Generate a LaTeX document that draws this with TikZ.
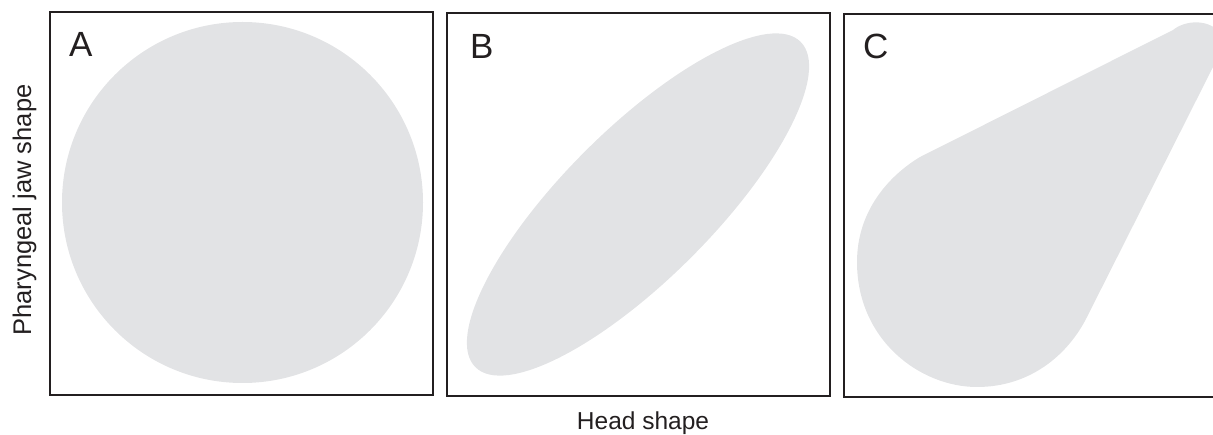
\documentclass[tikz,border=0pt]{standalone}
\usepackage{fontspec}
\setmainfont{Liberation Sans}
\definecolor{frame}{HTML}{231F20}
\definecolor{blob}{HTML}{E2E3E5}
\begin{document}
\begin{tikzpicture}[x=1pt,y=-1pt,
  panel/.style={draw=frame,line width=2pt},
  region/.style={fill=blob,draw=none},
  letter/.style={font=\fontsize{35}{35}\selectfont,text=frame,inner sep=0pt,anchor=base west},
  axislabel/.style={font=\fontsize{24.5}{24.5}\selectfont,text=frame,inner sep=0pt}]
\useasboundingbox (0,0) rectangle (1213,435);
\clip (0,0) rectangle (1213,435);
% panel A
\fill[region] (242.5,202.5) circle (180.5);
\draw[panel] (50,12) rectangle (433,395);
\node[letter] (la) at (69,57) {A};
% panel B
\fill[region] (638,204.5) ellipse [x radius=230, y radius=75, rotate=45];
\draw[panel] (447,13) rectangle (830,396);
\node[letter] (lb) at (470,58.5) {B};
% panel C
\fill[region] (920,157) -- (1173,30)
  .. controls (1185,20) and (1210,18) .. (1222,35)
  .. controls (1228,48) and (1220,60) .. (1213,67)
  -- (1087,317)
  .. controls (1068,355) and (1030,387) .. (977,387)
  .. controls (920,387) and (857,340) .. (857,262)
  .. controls (857,210) and (890,175) .. (920,157) -- cycle;
\draw[panel] (844,14) rectangle (1240,397);
\node[letter] (lc) at (863,58.5) {C};
% axis labels
\node[axislabel,anchor=base] (hx) at (643,430) {Head shape};
\node[axislabel,anchor=base,rotate=90,font=\fontsize{25.5}{25.5}\selectfont] (hy) at (31,210) {Pharyngeal jaw shape};
\end{tikzpicture}
\end{document}
